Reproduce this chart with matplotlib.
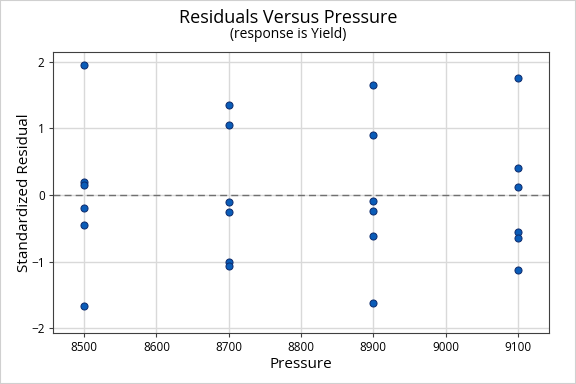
import numpy as np
import matplotlib
matplotlib.use("Agg")
import matplotlib.pyplot as plt

plt.rcParams['font.family'] = ['Open Sans', 'DejaVu Sans']

# Datos
pressure = [8500] * 6 + [8700] * 6 + [8900] * 6 + [9100] * 6
resid = [1.95, 0.20, 0.15, -0.20, -0.455, -1.67,
         1.35, 1.05, -0.11, -0.26, -1.00, -1.07,
         1.65, 0.90, -0.095, -0.245, -0.62, -1.62,
         1.755, 0.40, 0.115, -0.56, -0.65, -1.13]
xticks = [8500, 8600, 8700, 8800, 8900, 9000, 9100]
yticks = [-2, -1, 0, 1, 2]

fig = plt.figure(figsize=(5.76, 3.84), dpi=100)
ax = fig.add_axes([53 / 576, 1 - 333 / 384, 496 / 576, 281 / 384])

ax.scatter(pressure, resid, s=26, color='#0a5cb8', edgecolor='#0d2a6b',
           linewidth=0.7, zorder=3)
ax.axhline(0, color='#707070', linestyle=(0, (5, 3)), linewidth=1, zorder=2)

ax.set_xlim(8457, 9143)
ax.set_ylim(-2.075, 2.15)
ax.set_xticks(xticks)
ax.set_yticks(yticks)
ax.grid(color='#d9d9d9', linewidth=1)
ax.set_axisbelow(True)
for s in ax.spines.values():
    s.set_color('#404040')
ax.tick_params(labelsize=8.5, color='#404040', length=3, pad=3)

ax.set_xlabel("Pressure", fontsize=11, labelpad=2)
ax.set_ylabel("Standardized Residual", fontsize=11)
ax.yaxis.set_label_coords((32 - 53) / 496, 0.5)
fig.text(0.5, 1 - 18 / 384, "Residuals Versus Pressure", ha='center', va='center', fontsize=13)
fig.text(0.5, 1 - 34 / 384, "(response is Yield)", ha='center', va='center', fontsize=10)

fig.patches.append(plt.Rectangle((0, 0), 1, 1, transform=fig.transFigure,
                                 fill=False, edgecolor='#d0d0d0', linewidth=1.5))

fig.savefig("out.png", dpi=100)
